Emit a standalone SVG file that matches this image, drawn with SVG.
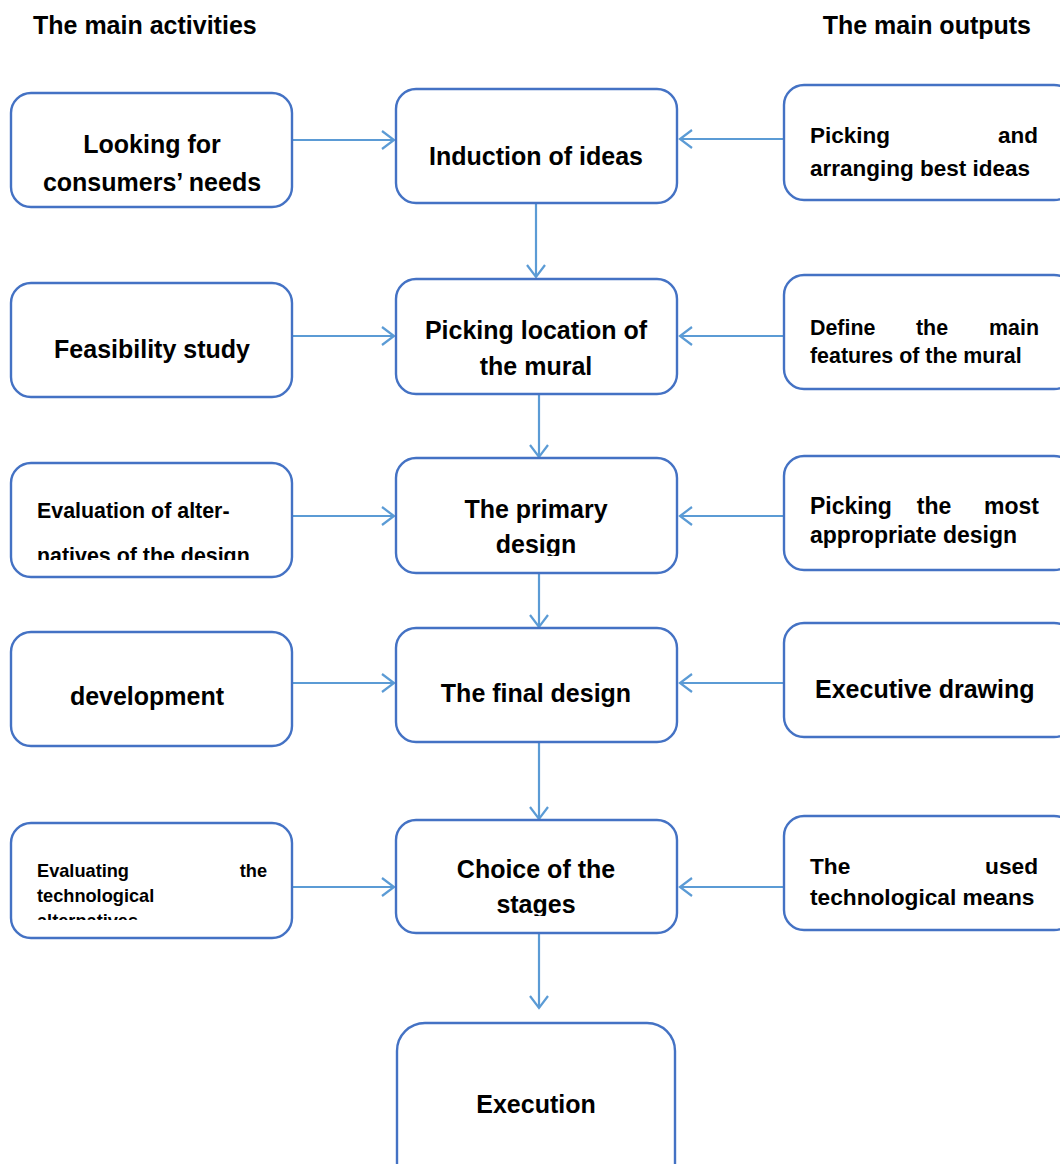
<svg xmlns="http://www.w3.org/2000/svg" width="1060" height="1164" viewBox="0 0 1060 1164">
<style>
.box{fill:#fff;stroke:#4472C4;stroke-width:2.4}
.t{font-family:"Liberation Sans",Arial,sans-serif;font-weight:bold;fill:#000}
.c{text-anchor:middle}
.e{text-anchor:end}
.edge{stroke:#5B9BD5;stroke-width:2.2;fill:none;marker-end:url(#ah)}
</style>
<defs>
<marker id="ah" markerUnits="userSpaceOnUse" markerWidth="24" markerHeight="24" refX="14" refY="10" orient="auto">
<path d="M2,1 L14,10 L2,19" fill="none" stroke="#5B9BD5" stroke-width="2.2"/>
</marker>
<clipPath id="cl3"><rect x="10" y="463" width="284" height="97"/></clipPath>
<clipPath id="cc3"><rect x="395" y="458" width="284" height="98"/></clipPath>
<clipPath id="cl5"><rect x="10" y="823" width="284" height="97"/></clipPath>
<clipPath id="cc5"><rect x="395" y="820" width="284" height="96"/></clipPath>
</defs>
<rect width="1060" height="1164" fill="#fff"/>
<text class="t" x="33" y="34" font-size="25">The main activities</text>
<text class="t e" x="1031" y="34" font-size="25">The main outputs</text>

<g id="connectors">
<path class="edge" d="M293,140 L394,140"/>
<path class="edge" d="M785,139 L680,139"/>
<path class="edge" d="M536,203 L536,277"/>
<path class="edge" d="M293,336 L394,336"/>
<path class="edge" d="M785,336 L680,336"/>
<path class="edge" d="M539,394 L539,457"/>
<path class="edge" d="M293,516 L394,516"/>
<path class="edge" d="M785,516 L680,516"/>
<path class="edge" d="M539,573 L539,627"/>
<path class="edge" d="M293,683 L394,683"/>
<path class="edge" d="M785,683 L680,683"/>
<path class="edge" d="M539,742 L539,819"/>
<path class="edge" d="M293,887 L394,887"/>
<path class="edge" d="M785,887 L680,887"/>
<path class="edge" d="M539,933 L539,1008"/>
</g>

<g id="n-looking"><rect class="box" x="11" y="93" width="281" height="114" rx="20"/>
<text class="t c" x="152" y="153" font-size="25">Looking for</text>
<text class="t c" x="152" y="191" font-size="25">consumers’ needs</text></g>
<g id="n-induction"><rect class="box" x="396" y="89" width="281" height="114" rx="20"/>
<text class="t c" x="536" y="165" font-size="25">Induction of ideas</text></g>
<g id="n-picking-best"><rect class="box" x="784" y="85" width="290" height="115" rx="20"/>
<text class="t" x="810" y="143" font-size="22.5">Picking</text>
<text class="t e" x="1038" y="143" font-size="22.5">and</text>
<text class="t" x="810" y="176" font-size="22.5">arranging best ideas</text></g>

<g id="n-feasibility"><rect class="box" x="11" y="283" width="281" height="114" rx="20"/>
<text class="t c" x="152" y="358" font-size="25">Feasibility study</text></g>
<g id="n-location"><rect class="box" x="396" y="279" width="281" height="115" rx="20"/>
<text class="t c" x="536" y="339" font-size="25">Picking location of</text>
<text class="t c" x="536" y="375" font-size="25">the mural</text></g>
<g id="n-define"><rect class="box" x="784" y="275" width="290" height="114" rx="20"/>
<text class="t" x="810" y="335" font-size="21.4">Define</text>
<text class="t c" x="932" y="335" font-size="21.4">the</text>
<text class="t e" x="1039" y="335" font-size="21.4">main</text>
<text class="t" x="810" y="363" font-size="21.4">features of the mural</text></g>

<g id="n-evaluation"><rect class="box" x="11" y="463" width="281" height="114" rx="20"/>
<g clip-path="url(#cl3)">
<text class="t" x="37" y="518" font-size="21.4">Evaluation of alter-</text>
<text class="t" x="37" y="563" font-size="21.4">natives of the design</text></g></g>
<g id="n-primary"><rect class="box" x="396" y="458" width="281" height="115" rx="20"/>
<g clip-path="url(#cc3)">
<text class="t c" x="536" y="518" font-size="25">The primary</text>
<text class="t c" x="536" y="553" font-size="25">design</text></g></g>
<g id="n-picking-most"><rect class="box" x="784" y="456" width="290" height="114" rx="20"/>
<text class="t" x="810" y="514" font-size="23">Picking</text>
<text class="t c" x="934" y="514" font-size="23">the</text>
<text class="t e" x="1039" y="514" font-size="23">most</text>
<text class="t" x="810" y="543" font-size="23">appropriate design</text></g>

<g id="n-development"><rect class="box" x="11" y="632" width="281" height="114" rx="20"/>
<text class="t c" x="147" y="705" font-size="25">development</text></g>
<g id="n-final"><rect class="box" x="396" y="628" width="281" height="114" rx="20"/>
<text class="t c" x="536" y="702" font-size="25">The final design</text></g>
<g id="n-executive"><rect class="box" x="784" y="623" width="290" height="114" rx="20"/>
<text class="t" x="815" y="698" font-size="25">Executive drawing</text></g>

<g id="n-evaluating"><rect class="box" x="11" y="823" width="281" height="115" rx="20"/>
<g clip-path="url(#cl5)">
<text class="t" x="37" y="877" font-size="18.2">Evaluating</text>
<text class="t e" x="267" y="877" font-size="18.2">the</text>
<text class="t" x="37" y="902" font-size="18.2">technological</text>
<text class="t" x="37" y="927" font-size="18.2">alternatives</text></g></g>
<g id="n-choice"><rect class="box" x="396" y="820" width="281" height="113" rx="20"/>
<g clip-path="url(#cc5)">
<text class="t c" x="536" y="878" font-size="25">Choice of the</text>
<text class="t c" x="536" y="913" font-size="25">stages</text></g></g>
<g id="n-used"><rect class="box" x="784" y="816" width="290" height="114" rx="20"/>
<text class="t" x="810" y="874" font-size="22.7">The</text>
<text class="t e" x="1038" y="874" font-size="22.7">used</text>
<text class="t" x="810" y="905" font-size="22.7">technological means</text></g>

<g id="n-execution"><rect class="box" x="397" y="1023" width="278" height="170" rx="28"/>
<text class="t c" x="536" y="1113" font-size="25">Execution</text></g>
</svg>
